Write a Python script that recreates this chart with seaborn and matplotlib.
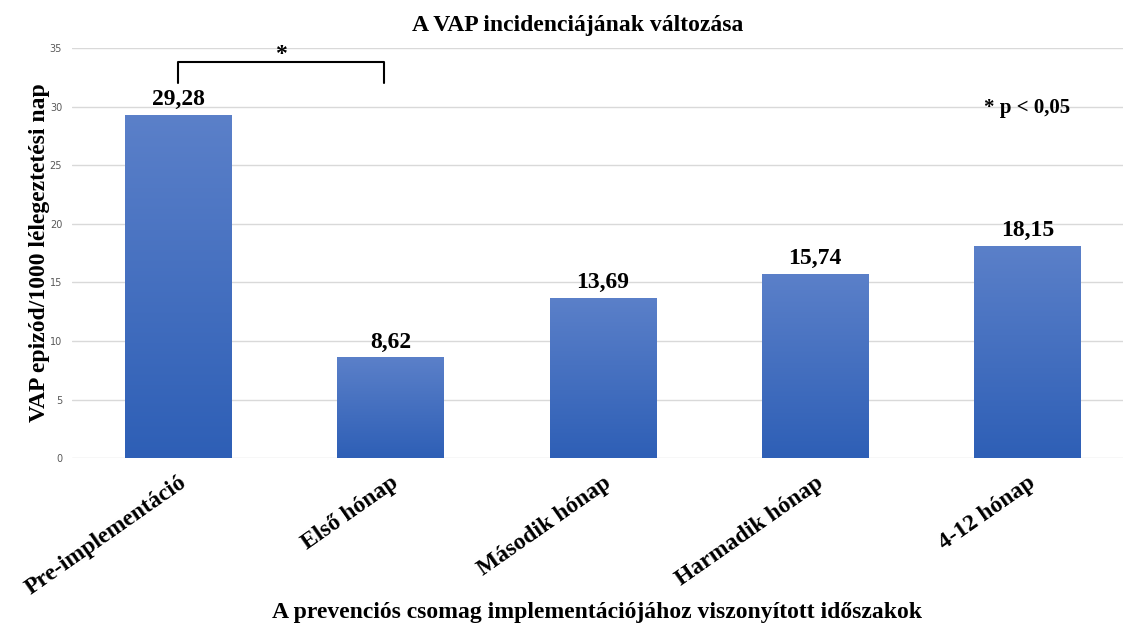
import numpy as np
import pandas as pd
import matplotlib
matplotlib.use('Agg')
import matplotlib.pyplot as plt
import seaborn as sns

# Data
periods = ['Pre-implementáció', 'Első hónap', 'Második hónap', 'Harmadik hónap', '4-12 hónap']
vap_rate = [29.28, 8.62, 13.69, 15.74, 18.15]
value_labels = ['29,28', '8,62', '13,69', '15,74', '18,15']

df = pd.DataFrame({'period': periods, 'rate': vap_rate})

sns.set_style('white')
plt.rcParams['text.color'] = 'black'
plt.rcParams['axes.labelcolor'] = 'black'
plt.rcParams['xtick.color'] = 'black'
serif = ['Liberation Serif', 'DejaVu Serif']

fig = plt.figure(figsize=(11.23, 6.25), dpi=100)
ax = fig.add_axes([0.064, 0.267, 0.936, 0.656])

sns.barplot(data=df, x='period', y='rate', width=0.5, color='#4472c4', ax=ax)

# gradient fill for each bar
grad = np.linspace(0, 1, 256).reshape(-1, 1)
cmap = matplotlib.colors.LinearSegmentedColormap.from_list('blu', ['#2e5fb6', '#5b80c9'])
for i, p in enumerate(ax.patches):
    x0, y0 = p.get_x(), p.get_y()
    w, h = p.get_width(), p.get_height()
    p.set_facecolor('none')
    p.set_edgecolor('none')
    im = ax.imshow(grad, extent=[x0, x0 + w, y0, y0 + h], origin='lower',
                   cmap=cmap, aspect='auto', zorder=2)
    im.set_clip_path(p)
    ax.text(x0 + w / 2, y0 + h + 0.4, value_labels[i],
            ha='center', va='bottom', fontsize=17, fontweight='bold', family=serif)

ax.set_xlim(-0.5, 4.45)
ax.set_ylim(0, 35)
ax.set_yticks(range(0, 36, 5))
ax.yaxis.grid(True, color='#d9d9d9', linewidth=1)
ax.set_axisbelow(True)
for s in ax.spines.values():
    s.set_visible(False)
ax.tick_params(axis='y', labelsize=7, labelcolor='#595959', length=0, pad=7)
ax.tick_params(axis='x', length=0, pad=10, labelcolor='black')
ax.set_xticks(range(len(periods)))
ax.set_xticklabels(periods, rotation=35, ha='right', rotation_mode='anchor',
                   fontsize=17, fontweight='bold', family=serif)

ax.set_xlabel('A prevenciós csomag implementációjához viszonyított időszakok',
              fontsize=17, fontweight='bold', family=serif, labelpad=2)
ax.set_ylabel('VAP epizód/1000 lélegeztetési nap', fontsize=17,
              fontweight='bold', family=serif, labelpad=0)
ax.set_title('A VAP incidenciájának változása', fontsize=17, x=0.481,
             fontweight='bold', family=serif, pad=12)

# significance bracket between first two bars
ax.plot([0, 0, 0.97, 0.97], [32.0, 33.8, 33.8, 32.0], color='black',
        linewidth=1.5, clip_on=False, zorder=3)
ax.text(0.485, 33.6, '*', ha='center', va='bottom', fontsize=17,
        fontweight='bold', family=serif)
ax.text(4, 29.0, '* p < 0,05', ha='center', va='bottom', fontsize=15,
        fontweight='bold', family=serif)

fig.savefig('out.png', dpi=100)
